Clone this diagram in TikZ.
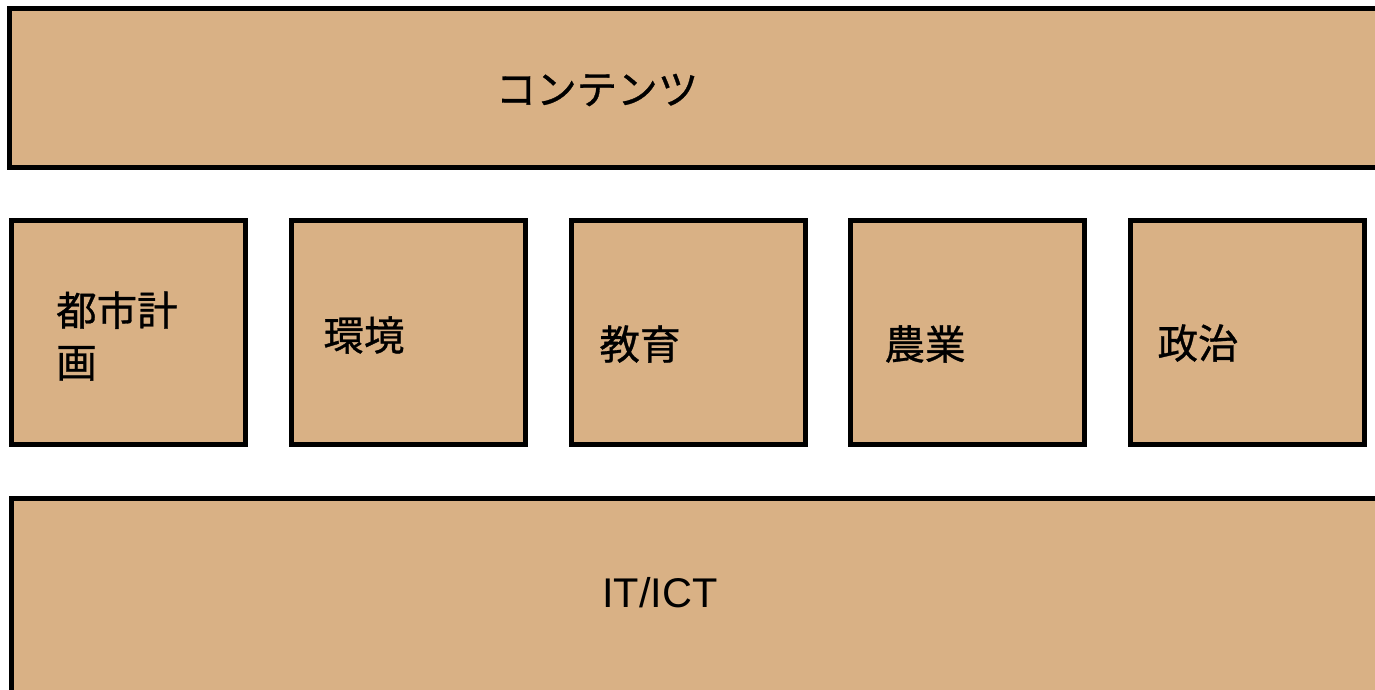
\documentclass[tikz,border=0pt]{standalone}
\usepackage{fontspec}
\newfontfamily\jpfont[FakeBold=0.8]{Noto Sans CJK JP}
\setmainfont{Liberation Sans}
\definecolor{tan}{RGB}{217,177,133}
\tikzset{
  panel/.style={draw=black, fill=tan, line width=5pt, inner sep=0pt, outer sep=0pt},
  label/.style={inner sep=0pt, font=\jpfont\fontsize{40.5}{52}\selectfont, text=black},
  latin/.style={inner sep=0pt, font=\fontsize{41.5}{48}\selectfont, text=black}
}
\begin{document}
\begin{tikzpicture}[x=1pt,y=-1pt]
\useasboundingbox (0,0) rectangle (1375,690);
\clip (0,0) rectangle (1375,690);
\fill[white] (0,0) rectangle (1375,690);
% top and bottom bars
\node[panel, minimum width=1400pt, minimum height=159pt, anchor=north west] (top) at (9.5,8.5) {};
\node[panel, minimum width=1400pt, minimum height=200pt, anchor=north west] (bottom) at (11.5,498.5) {};
% five boxes
\node[panel, minimum width=234pt, minimum height=224pt, anchor=north west] (b1) at (11.5,220.5) {};
\node[panel, minimum width=234pt, minimum height=224pt, anchor=north west] (b2) at (291.5,220.5) {};
\node[panel, minimum width=234pt, minimum height=224pt, anchor=north west] (b3) at (571,220.5) {};
\node[panel, minimum width=234pt, minimum height=224pt, anchor=north west] (b4) at (850.5,220.5) {};
\node[panel, minimum width=234pt, minimum height=224pt, anchor=north west] (b5) at (1130,220.5) {};
% texts
\node[label] (t0) at (597,90) {コンテンツ};
\node[label, align=left, anchor=west] (t1) at (56,336) {都市計\\画};
\node[label] (t2) at (364,335) {環境};
\node[label] (t3) at (640,344) {教育};
\node[label] (t4) at (925,344) {農業};
\node[label] (t5) at (1198,343) {政治};
\node[latin] (t6) at (660,593) {IT/ICT};
\end{tikzpicture}
\end{document}
